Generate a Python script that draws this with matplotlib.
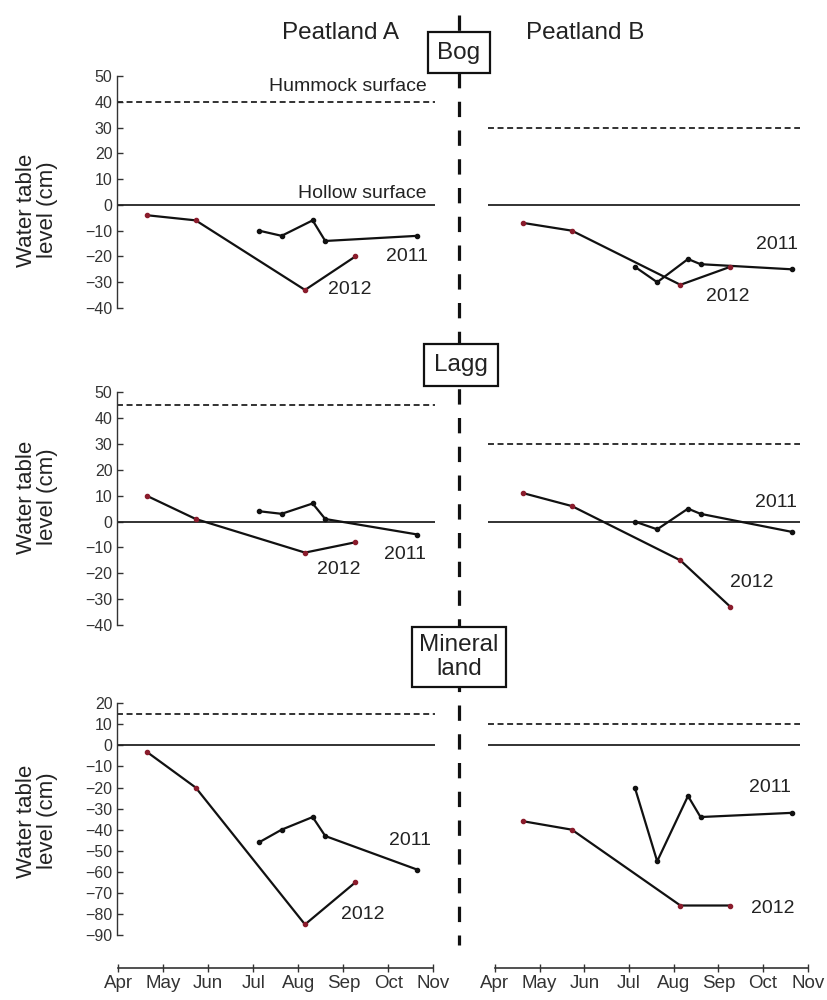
#!/usr/bin/env python3
import numpy as np
import matplotlib
matplotlib.use("Agg")
import matplotlib.pyplot as plt
from matplotlib.lines import Line2D

plt.rcParams['font.family'] = ['Liberation Sans', 'DejaVu Sans']

# sampling dates, in months after 1 April
dates_2012 = [0.63, 1.72, 4.15, 5.27]
dates_2011 = [3.13, 3.63, 4.32, 4.60, 6.65]

months = ['Apr', 'May', 'Jun', 'Jul', 'Aug', 'Sep', 'Oct', 'Nov']

# water table level (cm) per site
bog_a_2012 = [-4, -6, -33, -20]
bog_a_2011 = [-10, -12, -6, -14, -12]
bog_b_2012 = [-7, -10, -31, -24]
bog_b_2011 = [-24, -30, -21, -23, -25]

lagg_a_2012 = [10, 1, -12, -8]
lagg_a_2011 = [4, 3, 7, 1, -5]
lagg_b_2012 = [11, 6, -15, -33]
lagg_b_2011 = [0, -3, 5, 3, -4]

min_a_2012 = [-3, -20, -85, -65]
min_a_2011 = [-46, -40, -34, -43, -59]
min_b_2012 = [-36, -40, -76, -76]
min_b_2011 = [-20, -55, -24, -34, -32]

# hummock surface (dashed) per row, peatland A and B
hummock = [(40, 30), (45, 30), (15, 10)]

rows = [
    ((bog_a_2012, bog_a_2011), (bog_b_2012, bog_b_2011), (-40, 50), np.arange(-40, 51, 10)),
    ((lagg_a_2012, lagg_a_2011), (lagg_b_2012, lagg_b_2011), (-40, 50), np.arange(-40, 51, 10)),
    ((min_a_2012, min_a_2011), (min_b_2012, min_b_2011), (-90, 20), np.arange(-90, 21, 10)),
]

# year label spots (x month, y cm) for [row][side] -> (2011, 2012)
year_pos = [
    [((6.41, -20), (5.15, -33)), ((6.31, -15.5), (5.22, -35.5))],
    [((6.37, -12.8), (4.9, -18.6)), ((6.29, 7.4), (5.75, -23.6))],
    [((6.48, -45), (5.44, -80.5)), ((6.16, -19.8), (6.22, -77.2))],
]

W, H = 828, 1000
fig = plt.figure(figsize=(W / 100, H / 100), dpi=100)

def px_rect(x0, y0, x1, y1):
    return [x0 / W, 1 - y1 / H, (x1 - x0) / W, (y1 - y0) / H]

row_px = [(76, 308), (392.3, 625), (703.3, 935)]
col_px = [(116.7, 435), (488, 800)]
col_xlim = [(-0.036, 7.04), (-0.157, 6.827)]

txt = '#222222'
red = '#8a1c2c'

for r, (da, db, ylim, yt) in enumerate(rows):
    for c, d in enumerate([da, db]):
        ax = fig.add_axes(px_rect(col_px[c][0], row_px[r][0], col_px[c][1], row_px[r][1]))
        ax.set_xlim(*col_xlim[c])
        ax.set_ylim(*ylim)
        for s in ['top', 'right', 'bottom']:
            ax.spines[s].set_visible(False)
        ax.set_xticks([])
        if c == 0:
            ax.spines['left'].set_linewidth(1.0)
            ax.spines['left'].set_color('#333333')
            ax.set_yticks(yt)
            ax.tick_params(axis='y', direction='in', length=4, width=1,
                           labelsize=11.5, colors='#333333', pad=3)
        else:
            ax.spines['left'].set_visible(False)
            ax.set_yticks([])
        ax.patch.set_alpha(0)
        ax.axhline(0, color='#222222', lw=1.3)
        ax.axhline(hummock[r][c], color='#222222', lw=1.3, linestyle=(0, (3.3, 2.0)))
        ax.plot(dates_2011, d[1], color='#111111', lw=1.6, marker='o', ms=3,
                mfc='#111111', mec='#111111')
        ax.plot(dates_2012, d[0], color='#111111', lw=1.6, marker='o', ms=3,
                mfc=red, mec=red)
        (x11, y11), (x12, y12) = year_pos[r][c]
        ax.text(x11, y11, '2011', ha='center', va='center', fontsize=14, color=txt)
        ax.text(x12, y12, '2012', ha='center', va='center', fontsize=14, color=txt)
        if r == 0 and c == 0:
            ax.text(6.86, 46.1, 'Hummock surface', ha='right', va='center',
                    fontsize=14, color=txt)
            ax.text(6.86, 4.6, 'Hollow surface', ha='right', va='center',
                    fontsize=14, color=txt)

# month axes at the bottom
for x0, x1 in [(118.3, 433.3), (495, 807.7)]:
    bx = fig.add_axes(px_rect(x0, 940, x1, 968))
    bx.set_xlim(0, 7)
    bx.set_yticks([])
    for s in ['top', 'right', 'left']:
        bx.spines[s].set_visible(False)
    bx.spines['bottom'].set_linewidth(1.2)
    bx.spines['bottom'].set_color('#333333')
    bx.set_xticks(range(len(months)))
    bx.set_xticklabels(months)
    bx.tick_params(axis='x', direction='inout', length=6, width=1,
                   labelsize=13.5, colors='#333333', pad=2)
    bx.patch.set_alpha(0)

# y labels
for yc in [210, 497, 821]:
    fig.text(37 / W, 1 - yc / H, 'Water table\nlevel (cm)', rotation=90,
             ha='center', va='center', fontsize=16, color=txt,
             multialignment='center', linespacing=1.05)

# dividing dashed line
fig.add_artist(Line2D([459 / W, 459 / W], [1 - 15 / H, 1 - 945 / H],
                      color='#111111', lw=2.3, linestyle=(0, (4.8, 4.2))))

fig.text(341 / W, 1 - 33 / H, 'Peatland A', ha='center', va='center',
         fontsize=17.5, color=txt)
fig.text(585 / W, 1 - 33 / H, 'Peatland B', ha='center', va='center',
         fontsize=17.5, color=txt)

box = dict(boxstyle='square,pad=0.4', fc='white', ec='#111111', lw=1.6)
fig.text(459 / W, 1 - 52.5 / H, 'Bog', ha='center', va='center',
         fontsize=17.5, color=txt, bbox=box)
fig.text(461 / W, 1 - 365 / H, 'Lagg', ha='center', va='center',
         fontsize=17.5, color=txt, bbox=box)
fig.text(459 / W, 1 - 657 / H, 'Mineral\nland', ha='center', va='center',
         fontsize=17.5, color=txt, bbox=dict(boxstyle='square,pad=0.3', fc='white',
                                             ec='#111111', lw=1.6),
         multialignment='center', linespacing=1.1)

fig.savefig('out.png', dpi=100)
